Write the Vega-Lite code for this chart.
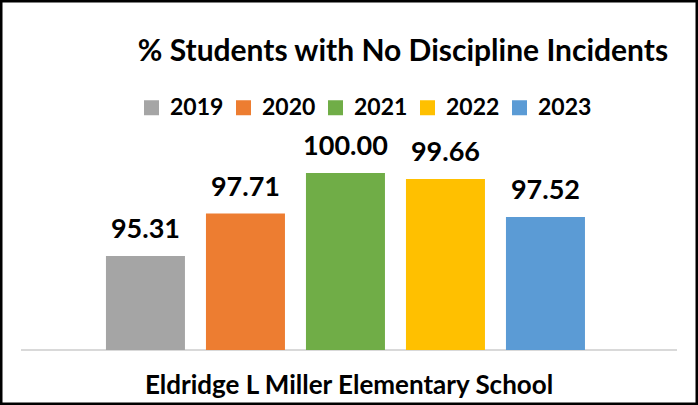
{
  "$schema": "https://vega.github.io/schema/vega-lite/v6.json",
  "width": 698,
  "height": 405,
  "autosize": "none",
  "padding": 0,
  "background": "white",
  "config": {
    "view": {"stroke": "black", "strokeWidth": 5},
    "font": "Lato"
  },
  "title": {
    "text": "% Students with No Discipline Incidents",
    "anchor": "middle",
    "dx": 54,
    "offset": -67,
    "font": "Lato",
    "fontSize": 30,
    "fontWeight": "bold",
    "color": "black"
  },
  "data": {
    "values": [
      {"school": "Eldridge L Miller Elementary School", "year": "2019", "value": 95.31},
      {"school": "Eldridge L Miller Elementary School", "year": "2020", "value": 97.71},
      {"school": "Eldridge L Miller Elementary School", "year": "2021", "value": 100.00},
      {"school": "Eldridge L Miller Elementary School", "year": "2022", "value": 99.66},
      {"school": "Eldridge L Miller Elementary School", "year": "2023", "value": 97.52}
    ]
  },
  "encoding": {
    "x": {
      "field": "school",
      "type": "nominal",
      "scale": {"paddingInner": 0, "paddingOuter": 0.032},
      "axis": {
        "title": null,
        "orient": "bottom",
        "offset": -55,
        "domain": false,
        "ticks": false,
        "labelAngle": 0,
        "labelFont": "Lato",
        "labelFontSize": 26,
        "labelFontWeight": "bold",
        "labelColor": "black",
        "labelPadding": 22,
        "labelLimit": 0
      }
    },
    "xOffset": {
      "field": "year",
      "type": "nominal",
      "scale": {"paddingInner": 0.21, "paddingOuter": 0.885, "align": 0.48}
    },
    "y": {
      "field": "value",
      "type": "quantitative",
      "scale": {"domain": [86.9, 109.77], "zero": false, "nice": false},
      "axis": null
    }
  },
  "layer": [
    {
      "mark": {"type": "rule", "color": "#d9d9d9", "strokeWidth": 2},
      "encoding": {
        "x": {"field": "school", "type": "nominal", "bandPosition": 0},
        "x2": {"field": "school", "bandPosition": 1},
        "xOffset": null,
        "y": {"datum": 90}
      }
    },
    {
      "mark": {"type": "bar"},
      "encoding": {
        "y2": {"datum": 90},
        "color": {
          "field": "year",
          "type": "nominal",
          "scale": {
            "domain": ["2019", "2020", "2021", "2022", "2023"],
            "range": ["#A5A5A5", "#ED7D31", "#70AD47", "#FFC000", "#5B9BD5"]
          },
          "legend": {
            "title": null,
            "orient": "none",
            "direction": "horizontal",
            "legendX": 140,
            "legendY": 96,
            "symbolType": "square",
            "symbolSize": 225,
            "symbolStrokeWidth": 0,
            "symbolOpacity": 1,
            "labelFont": "Lato",
            "labelFontSize": 23,
            "labelFontWeight": "bold",
            "labelColor": "black",
            "labelOffset": 7,
            "columnPadding": 8
          }
        }
      }
    },
    {
      "mark": {
        "type": "text",
        "baseline": "bottom",
        "dy": -12,
        "font": "Lato",
        "fontSize": 27,
        "fontWeight": "bold",
        "color": "black"
      },
      "encoding": {
        "text": {"field": "value", "type": "quantitative", "format": ".2f"}
      }
    }
  ]
}
